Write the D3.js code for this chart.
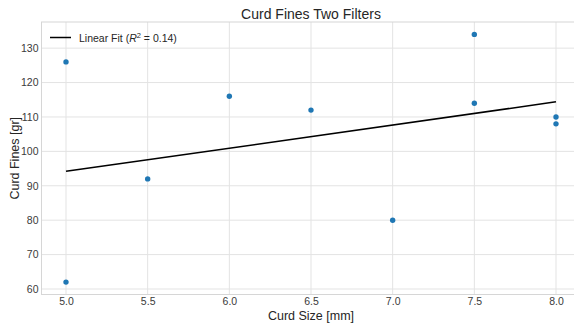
<!DOCTYPE html>
<html>
<head>
<meta charset="utf-8">
<script src="https://cdn.jsdelivr.net/npm/d3@7"></script>
<style>
  html, body { margin: 0; padding: 0; background: #fff; }
  svg { display: block; font-family: "Liberation Sans", Arial, sans-serif; }
</style>
</head>
<body>
<svg id="chart" width="574" height="323"></svg>
<script>
// Curd size (mm) vs. fines collected (g) across two filters
const curdSize = [5.0, 5.0, 5.5, 6.0, 6.5, 7.0, 7.5, 7.5, 8.0, 8.0];
const curdFines = [126, 62, 92, 116, 112, 80, 134, 114, 110, 108];

// Linear fit coefficients and its coefficient of determination
const fitSlope = 6.73;
const fitIntercept = 60.55;
const fitR2 = 0.14;
const fitRange = [5.0, 8.0];

const xTicks = [5.0, 5.5, 6.0, 6.5, 7.0, 7.5, 8.0];
const yTicks = [60, 70, 80, 90, 100, 110, 120, 130];

const svg = d3.select("#chart");
const plot = { left: 41.5, right: 580.5, top: 22, bottom: 294.5 };

// Axis limits padded by 5% of the data span, as in the usual plot margins
const xExt = d3.extent(curdSize), yExt = d3.extent(curdFines);
const xPad = (xExt[1] - xExt[0]) * 0.05, yPad = (yExt[1] - yExt[0]) * 0.05;

const x = d3.scaleLinear().domain([xExt[0] - xPad, xExt[1] + xPad]).range([plot.left, plot.right]);
const y = d3.scaleLinear().domain([yExt[0] - yPad, yExt[1] + yPad]).range([plot.bottom, plot.top]);

const gridColor = "#e3e3e3";
const tickColor = "#3a3a3a";

// Grid lines
const grid = svg.append("g");
grid.selectAll("line.gx").data(xTicks).join("line")
  .attr("x1", d => x(d)).attr("x2", d => x(d))
  .attr("y1", plot.top).attr("y2", plot.bottom)
  .attr("stroke", gridColor).attr("stroke-width", 1);
grid.selectAll("line.gy").data(yTicks).join("line")
  .attr("x1", plot.left).attr("x2", plot.right)
  .attr("y1", d => y(d)).attr("y2", d => y(d))
  .attr("stroke", gridColor).attr("stroke-width", 1);

// Axes frame
svg.append("rect")
  .attr("x", plot.left).attr("y", plot.top)
  .attr("width", plot.right - plot.left).attr("height", plot.bottom - plot.top)
  .attr("fill", "none").attr("stroke", "#d6d6d6").attr("stroke-width", 1);

// Tick labels through d3 axes (no tick marks, no domain line)
const xAxis = svg.append("g")
  .attr("transform", `translate(0,${plot.bottom})`)
  .call(d3.axisBottom(x).tickValues(xTicks).tickFormat(d3.format(".1f")).tickSize(0).tickPadding(3));
const yAxis = svg.append("g")
  .attr("transform", `translate(${plot.left},0)`)
  .call(d3.axisLeft(y).tickValues(yTicks).tickFormat(d3.format("d")).tickSize(0).tickPadding(3));
[xAxis, yAxis].forEach(g => {
  g.select(".domain").remove();
  g.selectAll("text")
    .attr("fill", tickColor)
    .style("font-size", "10.5px")
    .style("font-family", "'Liberation Sans', Arial, sans-serif");
});

// Fit line
svg.append("line")
  .attr("x1", x(fitRange[0])).attr("y1", y(fitIntercept + fitSlope * fitRange[0]))
  .attr("x2", x(fitRange[1])).attr("y2", y(fitIntercept + fitSlope * fitRange[1]))
  .attr("stroke", "#000").attr("stroke-width", 1.5);

// Scatter points
svg.append("g").selectAll("circle")
  .data(curdSize.map((d, i) => [d, curdFines[i]]))
  .join("circle")
  .attr("cx", d => x(d[0])).attr("cy", d => y(d[1]))
  .attr("r", 2.7).attr("fill", "#1f77b4");

// Legend
const leg = svg.append("g");
leg.append("line")
  .attr("x1", 50).attr("x2", 71).attr("y1", 37.5).attr("y2", 37.5)
  .attr("stroke", "#000").attr("stroke-width", 1.5);
const lt = leg.append("text")
  .attr("x", 79).attr("y", 41.5)
  .attr("fill", "#262626").style("font-size", "10.5px");
lt.append("tspan").text("Linear Fit (");
lt.append("tspan").attr("font-style", "italic").text("R");
lt.append("tspan").attr("dy", -4).style("font-size", "7.5px").text("2");
lt.append("tspan").attr("dy", 4).text(` = ${fitR2.toFixed(2)})`);

// Title and axis labels
svg.append("text")
  .attr("x", (plot.left + plot.right) / 2).attr("y", 19)
  .attr("text-anchor", "middle").attr("fill", "#262626")
  .style("font-size", "14px").text("Curd Fines Two Filters");
svg.append("text")
  .attr("x", (plot.left + plot.right) / 2).attr("y", 319.5)
  .attr("text-anchor", "middle").attr("fill", "#262626")
  .style("font-size", "12.5px").text("Curd Size [mm]");
svg.append("text")
  .attr("transform", `translate(18.5,${(plot.top + plot.bottom) / 2}) rotate(-90)`)
  .attr("text-anchor", "middle").attr("fill", "#262626")
  .style("font-size", "12.5px").text("Curd Fines [gr]");
</script>
</body>
</html>
